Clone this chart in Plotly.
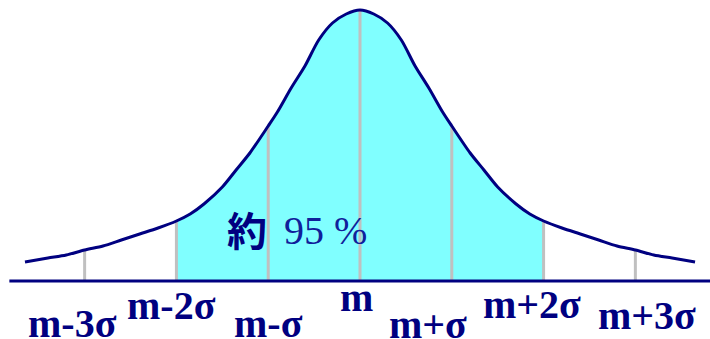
import plotly.graph_objects as go

# ---- data (x in sigma units from the mean, y = curve height) ----
curve_x = [-3.65, -3.4, -3.2, -3.0, -2.8, -2.6, -2.4, -2.2, -2.0, -1.85, -1.7, -1.5, -1.35, -1.2,
           -1.0, -0.9, -0.75, -0.6, -0.45, -0.3, -0.15, 0.0,
           0.15, 0.3, 0.45, 0.6, 0.75, 0.9, 1.0, 1.2, 1.35, 1.5, 1.7, 1.85, 2.0,
           2.2, 2.4, 2.6, 2.8, 3.0, 3.2, 3.4, 3.65]
curve_y = [19, 23, 26, 31, 35, 41, 47, 53, 60, 67, 77, 94, 111, 128,
           155, 169, 193, 215, 241, 258, 267, 271,
           267, 258, 241, 215, 193, 169, 155, 128, 111, 94, 77, 67, 60,
           53, 47, 41, 35, 31, 26, 23, 19]
sigma_marks = [-3, -2, -1, 0, 1, 2, 3]
tick_labels = ["m-3σ", "m-2σ", "m-σ", "m", "m+σ", "m+2σ", "m+3σ"]
shaded_range = (-2, 2)
note_prefix = "約"
note_value = "95 %"

# ---- layout helpers ----
W, H = 710, 339
X_RANGE = [-3.922, 3.813]
Y_RANGE = [-58, 281]
NAVY = "#000080"
CYAN = "#80FFFF"
GRAY = "#C0C0C0"

# label placement (x in sigma units, y in pixels from top of image)
label_pos_x = [-3.13, -2.05, -1.0, -0.04, 0.74, 1.87, 3.13]
label_pos_ypx = [323, 305, 323, 297, 324, 304, 315]


def ypx(p):
    return Y_RANGE[1] - p


fig = go.Figure()

# shaded area between m-2σ and m+2σ
sx = [x for x in curve_x if shaded_range[0] <= x <= shaded_range[1]]
sy = [y for x, y in zip(curve_x, curve_y) if shaded_range[0] <= x <= shaded_range[1]]
fig.add_trace(go.Scatter(x=sx, y=sy, mode="lines", fill="tozeroy", fillcolor=CYAN,
                         line=dict(width=0, color=CYAN, shape="spline"), hoverinfo="skip"))

# gray vertical lines at each sigma mark
vx, vy = [], []
for m in sigma_marks:
    h = curve_y[curve_x.index(float(m))]
    vx += [m, m, None]
    vy += [0, h, None]
fig.add_trace(go.Scatter(x=vx, y=vy, mode="lines", line=dict(color=GRAY, width=3), hoverinfo="skip"))

# the curve
fig.add_trace(go.Scatter(x=curve_x, y=curve_y, mode="lines",
                         line=dict(color=NAVY, width=3, shape="spline", smoothing=0.8),
                         hoverinfo="skip"))

# baseline
fig.add_shape(type="line", x0=-3.82, x1=X_RANGE[1], y0=0, y1=0,
              line=dict(color=NAVY, width=3), layer="above")

# tick labels
for lab, lx, ly in zip(tick_labels, label_pos_x, label_pos_ypx):
    fig.add_annotation(x=lx, y=ypx(ly), text=lab, showarrow=False,
                       xanchor="center", yanchor="middle",
                       font=dict(family="Liberation Serif", size=40, color=NAVY, weight="bold"))

# note
fig.add_annotation(x=(247 - 360) / 91.8, y=ypx(229), text=note_prefix, showarrow=False,
                   xanchor="center", yanchor="middle",
                   font=dict(family="Noto Sans CJK JP", size=40, color=NAVY, weight="bold"))
fig.add_annotation(x=(282 - 360) / 91.8, y=ypx(230), text=note_value, showarrow=False,
                   xanchor="left", yanchor="middle",
                   font=dict(family="Liberation Serif", size=40, color="#10209a"))

fig.update_layout(
    width=W, height=H, margin=dict(l=0, r=0, t=0, b=0),
    paper_bgcolor="white", plot_bgcolor="white", showlegend=False,
    xaxis=dict(range=X_RANGE, visible=False, fixedrange=True),
    yaxis=dict(range=Y_RANGE, visible=False, fixedrange=True),
)

fig.write_html("out.html", config={"displayModeBar": False},
               post_script="document.body.style.margin='0';document.body.style.overflow='hidden';")
